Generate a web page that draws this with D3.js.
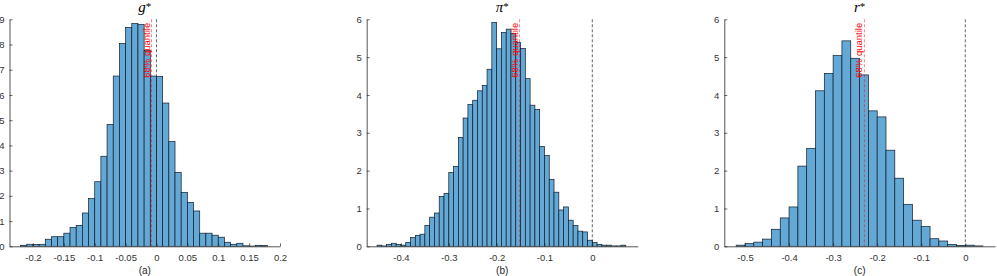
<!DOCTYPE html>
<html>
<head>
<meta charset="utf-8">
<script src="https://cdn.jsdelivr.net/npm/d3@7"></script>
<style>
  body { margin: 0; background: #fff; }
  .tick text { font-family: "Liberation Sans", Arial, sans-serif; font-size: 9.5px; fill: #333; }
  .xlab { font-family: "Liberation Sans", Arial, sans-serif; font-size: 10px; fill: #262626; }
  .qlab { font-family: "Liberation Sans", Arial, sans-serif; font-size: 9.5px; fill: #ff0000; }
</style>
</head>
<body>
<div id="chart"></div>
<script>
// three posterior histograms (g*, pi*, r*) with 68% quantile marker and a zero line

// ---- data (density per bin) ----
// panel (a) g*
var gBinStart = -0.22, gBinWidth = 0.01;
var gDensity = [0.04, 0.08, 0.07, 0.08, 0.28, 0.38, 0.38, 0.52, 0.74, 0.83,
                1.32, 1.89, 2.56, 3.57, 4.83, 6.75, 8.04, 8.68, 8.83, 8.79,
                7.76, 6.75, 6.73, 5.68, 4.15, 2.93, 2.14, 1.74, 1.40, 0.52,
                0.52, 0.44, 0.36, 0.16, 0.08, 0.12, 0.02, 0.01, 0.04, 0.03];
var gQuantile = -0.008;
var gXTicks = [-0.2, -0.15, -0.1, -0.05, 0, 0.05, 0.1, 0.15, 0.2];
var gYTicks = [0, 1, 2, 3, 4, 5, 6, 7, 8, 9];

// panel (b) pi*
var piBinStart = -0.45, piBinWidth = 0.01;
var piDensity = [0.03, 0.01, 0.05, 0.08, 0.05, 0.03, 0.10, 0.23, 0.29, 0.32,
                 0.55, 0.77, 0.88, 1.32, 1.40, 1.95, 2.11, 2.88, 3.39, 3.75,
                 3.86, 4.11, 4.25, 4.68, 5.92, 5.22, 5.65, 5.74, 5.63, 5.39,
                 5.23, 4.43, 3.73, 3.62, 2.64, 2.40, 1.77, 1.43, 0.96, 1.04,
                 0.69, 0.55, 0.40, 0.38, 0.16, 0.10, 0.05, 0.03, 0.03, 0.01,
                 0.01, 0.03];
var piQuantile = -0.152;
var piXTicks = [-0.4, -0.3, -0.2, -0.1, 0];
var piYTicks = [0, 1, 2, 3, 4, 5, 6];

// panel (c) r*
var rBinStart = -0.52, rBinWidth = 0.02;
var rDensity = [0.03, 0.07, 0.11, 0.19, 0.45, 0.75, 1.04, 2.12, 2.59, 4.11,
                4.57, 5.04, 5.43, 4.97, 4.53, 3.58, 3.42, 2.54, 1.80, 1.11,
                0.69, 0.52, 0.20, 0.14, 0.05, 0.02, 0.03, 0.01];
var rQuantile = -0.229;
var rXTicks = [-0.5, -0.4, -0.3, -0.2, -0.1, 0];
var rYTicks = [0, 1, 2, 3, 4, 5, 6];

var quantileText = "68% quantile";

(function(){

  var width = 997, height = 276;
  var top = 19.3, bottom = 246.3;

  var svg = d3.select("#chart")
    .append("svg")
    .attr("width", width)
    .attr("height", height);

  // panel layout: pixel extent of each axes box + x limits
  var panels = [
    {name: "g", title: "g", label: "(a)", x0: 9.5, x1: 280, xDomain: [-0.238, 0.2], yMax: 9,
     start: gBinStart, bw: gBinWidth, dens: gDensity, q: gQuantile, xt: gXTicks, yt: gYTicks},
    {name: "pi", title: "\u03c0", label: "(b)", x0: 366.7, x1: 637.7, xDomain: [-0.4716, 0.0949], yMax: 6,
     start: piBinStart, bw: piBinWidth, dens: piDensity, q: piQuantile, xt: piXTicks, yt: piYTicks},
    {name: "r", title: "r", label: "(c)", x0: 724.3, x1: 995, xDomain: [-0.547, 0.0674], yMax: 6,
     start: rBinStart, bw: rBinWidth, dens: rDensity, q: rQuantile, xt: rXTicks, yt: rYTicks}
  ];

  panels.forEach(drawPanel);

  function drawPanel(p){
    var x = d3.scaleLinear().domain(p.xDomain).range([p.x0, p.x1]);
    var y = d3.scaleLinear().domain([0, p.yMax]).range([bottom, top]);

    var g = svg.append("g").attr("class", "panel-" + p.name);

    // bins -> rects
    var bins = p.dens.map(function(d, i){
      return {lo: p.start + i * p.bw, hi: p.start + (i + 1) * p.bw, v: d};
    });

    g.selectAll("rect.bar")
      .data(bins)
      .enter()
      .append("rect")
      .attr("class", "bar")
      .attr("x", function(d){ return x(d.lo); })
      .attr("width", function(d){ return x(d.hi) - x(d.lo); })
      .attr("y", function(d){ return y(d.v); })
      .attr("height", function(d){ return y(0) - y(d.v); })
      .style("fill", "#64a9d6")
      .style("stroke", "#0d1b2a")
      .style("stroke-width", 0.7);

    // axes, ticks pointing inward like matlab
    var xAxis = d3.axisBottom(x).tickValues(p.xt)
      .tickSizeInner(-3).tickSizeOuter(0).tickPadding(8)
      .tickFormat(function(d){ return d === 0 ? "0" : d3.format("")(+d.toFixed(2)).replace("\u2212", "-"); });
    var yAxis = d3.axisLeft(y).tickValues(p.yt)
      .tickSizeInner(-3).tickSizeOuter(0).tickPadding(5);

    var gx = g.append("g").attr("transform", "translate(0," + bottom + ")").call(xAxis);
    var gy = g.append("g").attr("transform", "translate(" + p.x0 + ",0)").call(yAxis);
    [gx, gy].forEach(function(a){
      a.attr("font-family", null).attr("font-size", null);
      a.selectAll("path, line").style("stroke", "#262626").style("stroke-width", 0.7);
      a.select(".domain").style("stroke", "#555").style("stroke-width", 1);
    });
    gy.selectAll(".tick text").text(function(d){ return d; });

    // zero line
    g.append("line")
      .attr("x1", x(0)).attr("x2", x(0))
      .attr("y1", top).attr("y2", bottom)
      .style("stroke", "#262626")
      .style("stroke-opacity", 0.7)
      .style("stroke-width", 1)
      .style("stroke-dasharray", "3,2");

    // quantile line + label
    g.append("line")
      .attr("x1", x(p.q)).attr("x2", x(p.q))
      .attr("y1", top).attr("y2", bottom)
      .style("stroke", "#ff0000")
      .style("stroke-opacity", 0.5)
      .style("stroke-width", 1)
      .style("stroke-dasharray", "3,2");

    g.append("text")
      .attr("class", "qlab")
      .attr("transform", "translate(" + (x(p.q) - 2) + "," + (top + 3.5) + ") rotate(-90)")
      .attr("text-anchor", "end")
      .text(quantileText);

    // title: italic symbol with starred superscript
    var t = g.append("text")
      .attr("x", (p.x0 + p.x1) / 2)
      .attr("y", 12)
      .attr("text-anchor", "middle")
      .style("font-family", "'Liberation Serif', 'Times New Roman', serif")
      .style("font-size", "15px")
      .style("fill", "#000");
    t.append("tspan").style("font-style", "italic").text(p.title);
    t.append("tspan").attr("dy", -2).style("font-size", "11px").text("*");

    // sub-label
    g.append("text")
      .attr("class", "xlab")
      .attr("x", (p.x0 + p.x1) / 2)
      .attr("y", 273.5)
      .attr("text-anchor", "middle")
      .text(p.label);
  }

})();
</script>
</body>
</html>
